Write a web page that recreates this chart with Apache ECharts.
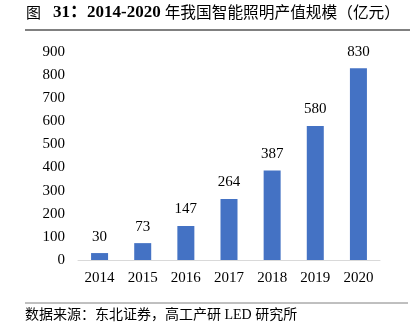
<!DOCTYPE html>
<html><head><meta charset="utf-8">
<script src="https://cdn.jsdelivr.net/npm/echarts@6/dist/echarts.min.js"></script>
<style>html,body{margin:0;padding:0;background:#fff}#c{width:414px;height:336px}</style>
</head><body><div id="c"></div>
<script>
const categories = ['2014','2015','2016','2017','2018','2019','2020'];
const values = [30, 73, 147, 264, 387, 580, 830];
const titleLead = '图';
const titleNum = '31：2014-2020';
const titleRest = '年我国智能照明产值规模（亿元）';
const sourceText = '数据来源：东北证券，高工产研 LED 研究所';
const serif = '"Liberation Serif", "Times New Roman", "Noto Sans CJK SC", serif';
const chart = echarts.init(document.getElementById('c'));
chart.setOption({
  animation: false,
  graphic: [
    { type: 'text', left: 26, top: 4, style: {
        text: '{a|' + titleLead + '}{b|' + titleNum + '}{c|' + titleRest + '}',
        rich: {
          a: { fontFamily: '"Noto Sans CJK SC"', fontSize: 15, fontWeight: 'normal', fill: '#000', padding: [0, 12, 0, 0] },
          b: { fontFamily: serif, fontSize: 17, fontWeight: 'bold', fill: '#000', padding: [0, 4, 0, 0] },
          c: { fontFamily: '"Noto Sans CJK SC"', fontSize: 15.7, fontWeight: 'normal', fill: '#000' }
        }
      } },
    { type: 'line', shape: { x1: 25, y1: 30, x2: 410, y2: 30 }, style: { stroke: '#808080', lineWidth: 2 } },
    { type: 'line', shape: { x1: 25, y1: 303, x2: 408, y2: 303 }, style: { stroke: '#808080', lineWidth: 1 } },
    { type: 'text', left: 25, top: 308, style: { text: sourceText, font: '14px ' + serif, fill: '#000' } }
  ],
  grid: { left: 78, right: 34, top: 52, bottom: 76 },
  xAxis: {
    type: 'category', data: categories,
    axisLine: { lineStyle: { color: '#d9d9d9' } },
    axisTick: { show: false },
    axisLabel: { fontFamily: serif, fontSize: 15, color: '#000', margin: 11 }
  },
  yAxis: {
    type: 'value', min: 0, max: 900, interval: 100,
    splitLine: { show: false },
    axisLine: { show: false }, axisTick: { show: false },
    axisLabel: { fontFamily: serif, fontSize: 15, color: '#000', margin: 13 }
  },
  series: [{
    type: 'bar', data: values, barWidth: 17,
    itemStyle: { color: '#4472C4' },
    label: { show: true, position: 'top', distance: 9, fontFamily: serif, fontSize: 15, color: '#000' }
  }]
});
</script></body></html>
